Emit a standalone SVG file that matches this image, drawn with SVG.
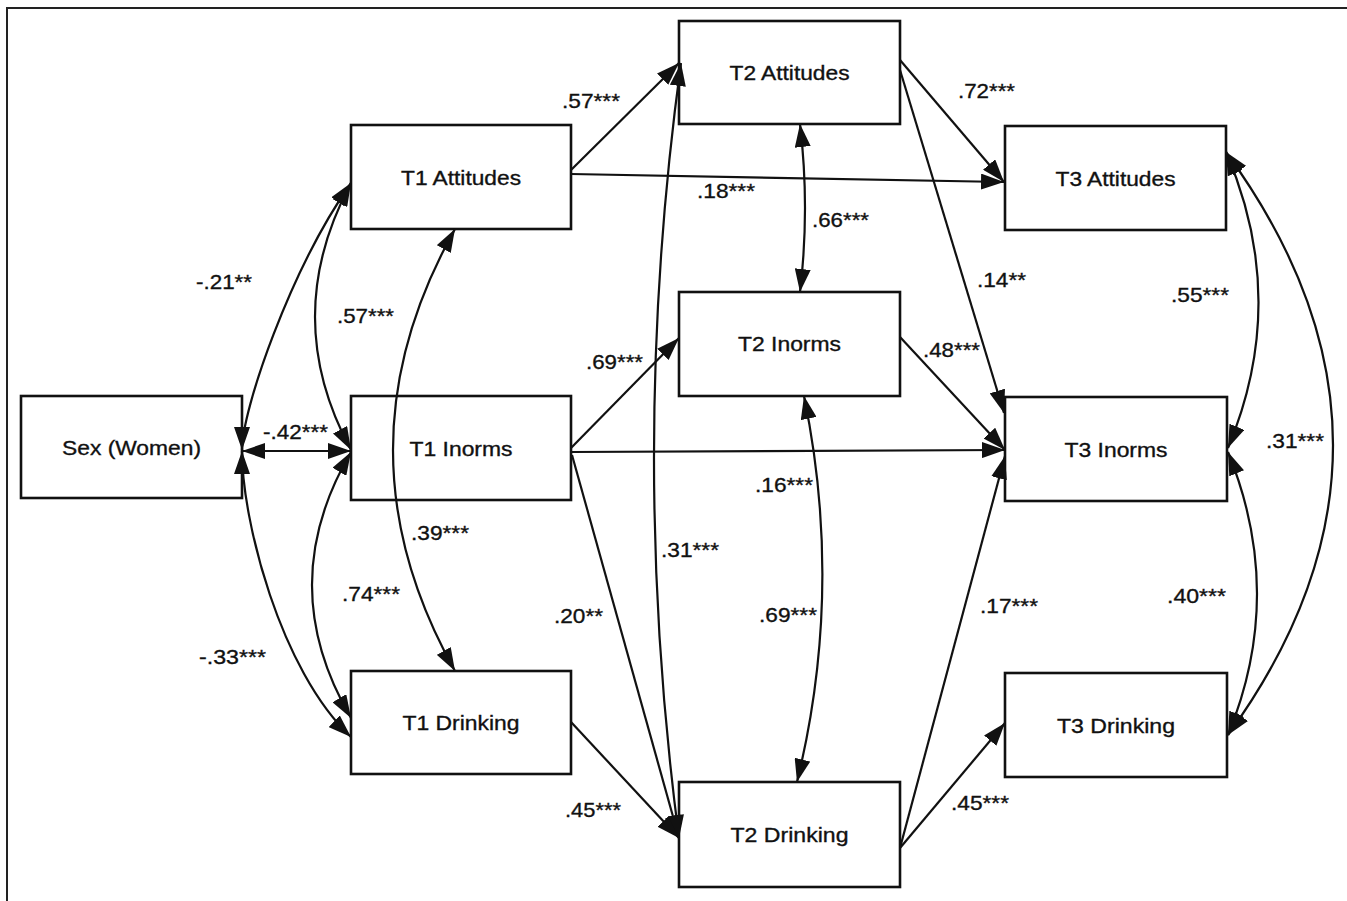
<svg xmlns="http://www.w3.org/2000/svg" width="1347" height="901" viewBox="0 0 1347 901">
<style>
.box{fill:#fff;stroke:#111;stroke-width:2.6}
.lbl{font-family:"Liberation Sans",Arial,sans-serif;font-size:21px;fill:#111;stroke:#111;stroke-width:0.35}
.nl{text-anchor:middle}
.ed{fill:none;stroke:#111;stroke-width:2.2}
.one{marker-end:url(#ah)}
.two{marker-start:url(#ah);marker-end:url(#ah)}
</style>
<defs>
<marker id="ah" viewBox="0 0 23 16" refX="23" refY="8" markerWidth="23" markerHeight="16" markerUnits="userSpaceOnUse" orient="auto-start-reverse">
<path d="M0,0 L23,8 L0,16 z" fill="#111"/>
</marker>
</defs>
<rect width="1347" height="901" fill="#fff"/>
<path d="M7,901 L7,8 L1347,8" fill="none" stroke="#222" stroke-width="2"/>

<g id="sex"><rect class="box" x="21" y="396" width="221" height="102"/><text class="lbl nl" x="131.5" y="455" textLength="139" lengthAdjust="spacingAndGlyphs">Sex (Women)</text></g>
<g id="t1att"><rect class="box" x="351" y="125" width="220" height="104"/><text class="lbl nl" x="461" y="185" textLength="120" lengthAdjust="spacingAndGlyphs">T1 Attitudes</text></g>
<g id="t1inorms"><rect class="box" x="351" y="396" width="220" height="104"/><text class="lbl nl" x="461" y="456" textLength="103" lengthAdjust="spacingAndGlyphs">T1 Inorms</text></g>
<g id="t1drink"><rect class="box" x="351" y="671" width="220" height="103"/><text class="lbl nl" x="461" y="730" textLength="117" lengthAdjust="spacingAndGlyphs">T1 Drinking</text></g>
<g id="t2att"><rect class="box" x="679" y="21" width="221" height="103"/><text class="lbl nl" x="789.5" y="80" textLength="120" lengthAdjust="spacingAndGlyphs">T2 Attitudes</text></g>
<g id="t2inorms"><rect class="box" x="679" y="292" width="221" height="104"/><text class="lbl nl" x="789.5" y="351" textLength="103" lengthAdjust="spacingAndGlyphs">T2 Inorms</text></g>
<g id="t2drink"><rect class="box" x="679" y="782" width="221" height="105"/><text class="lbl nl" x="789.5" y="842" textLength="118" lengthAdjust="spacingAndGlyphs">T2 Drinking</text></g>
<g id="t3att"><rect class="box" x="1005" y="126" width="221" height="104"/><text class="lbl nl" x="1115.5" y="186" textLength="120" lengthAdjust="spacingAndGlyphs">T3 Attitudes</text></g>
<g id="t3inorms"><rect class="box" x="1005" y="397" width="222" height="104"/><text class="lbl nl" x="1116" y="457" textLength="103" lengthAdjust="spacingAndGlyphs">T3 Inorms</text></g>
<g id="t3drink"><rect class="box" x="1005" y="673" width="222" height="104"/><text class="lbl nl" x="1116" y="733" textLength="118" lengthAdjust="spacingAndGlyphs">T3 Drinking</text></g>

<g id="connectors">
<path class="ed one" d="M571,170 L679,63"/>
<path class="ed one" d="M571,174 L1004,182"/>
<path class="ed one" d="M900,60 L1004,182"/>
<path class="ed one" d="M900,70 L1004,413"/>
<path class="ed one" d="M900,337 L1005,450"/>
<path class="ed one" d="M571,452 L1005,450"/>
<path class="ed one" d="M571,448 L679,338"/>
<path class="ed one" d="M572,455 L679,838"/>
<path class="ed one" d="M571,722 L679,838"/>
<path class="ed one" d="M900,848 L1005,456"/>
<path class="ed one" d="M900,848 L1005,723"/>

<path class="ed two" d="M242,450 C242,410 290,270 351,183"/>
<path class="ed two" d="M351,183 Q279,317 351,450"/>
<path class="ed two" d="M242,451 L351,451"/>
<path class="ed two" d="M242,451 C242,520 280,670 351,737"/>
<path class="ed two" d="M351,452 Q273,585 351,718"/>
<path class="ed two" d="M455,229 Q331,450 455,671"/>
<path class="ed two" d="M681,63 Q628,450 679,838"/>
<path class="ed two" d="M800,124 Q810,208 800,292"/>
<path class="ed two" d="M804,396 Q844,590 797,782"/>
<path class="ed two" d="M1226,152 Q1290,300 1228,448"/>
<path class="ed two" d="M1226,152 Q1439,444 1228,735"/>
<path class="ed two" d="M1228,452 Q1286,594 1228,735"/>

<text class="lbl" x="562" y="108" textLength="58" lengthAdjust="spacingAndGlyphs">.57***</text>
<text class="lbl" x="196" y="289" textLength="56" lengthAdjust="spacingAndGlyphs">-.21**</text>
<text class="lbl" x="337" y="323" textLength="57" lengthAdjust="spacingAndGlyphs">.57***</text>
<text class="lbl" x="586" y="369" textLength="57" lengthAdjust="spacingAndGlyphs">.69***</text>
<text class="lbl" x="263" y="439" textLength="65" lengthAdjust="spacingAndGlyphs">-.42***</text>
<text class="lbl" x="697" y="198" textLength="58" lengthAdjust="spacingAndGlyphs">.18***</text>
<text class="lbl" x="958" y="98" textLength="57" lengthAdjust="spacingAndGlyphs">.72***</text>
<text class="lbl" x="812" y="227" textLength="57" lengthAdjust="spacingAndGlyphs">.66***</text>
<text class="lbl" x="977" y="287" textLength="49" lengthAdjust="spacingAndGlyphs">.14**</text>
<text class="lbl" x="1171" y="302" textLength="58" lengthAdjust="spacingAndGlyphs">.55***</text>
<text class="lbl" x="923" y="357" textLength="57" lengthAdjust="spacingAndGlyphs">.48***</text>
<text class="lbl" x="1266" y="448" textLength="58" lengthAdjust="spacingAndGlyphs">.31***</text>
<text class="lbl" x="411" y="540" textLength="58" lengthAdjust="spacingAndGlyphs">.39***</text>
<text class="lbl" x="342" y="601" textLength="58" lengthAdjust="spacingAndGlyphs">.74***</text>
<text class="lbl" x="554" y="623" textLength="49" lengthAdjust="spacingAndGlyphs">.20**</text>
<text class="lbl" x="199" y="664" textLength="67" lengthAdjust="spacingAndGlyphs">-.33***</text>
<text class="lbl" x="565" y="817" textLength="56" lengthAdjust="spacingAndGlyphs">.45***</text>
<text class="lbl" x="661" y="557" textLength="58" lengthAdjust="spacingAndGlyphs">.31***</text>
<text class="lbl" x="755" y="492" textLength="58" lengthAdjust="spacingAndGlyphs">.16***</text>
<text class="lbl" x="759" y="622" textLength="58" lengthAdjust="spacingAndGlyphs">.69***</text>
<text class="lbl" x="980" y="613" textLength="58" lengthAdjust="spacingAndGlyphs">.17***</text>
<text class="lbl" x="1167" y="603" textLength="59" lengthAdjust="spacingAndGlyphs">.40***</text>
<text class="lbl" x="951" y="810" textLength="58" lengthAdjust="spacingAndGlyphs">.45***</text>
</g>
</svg>
